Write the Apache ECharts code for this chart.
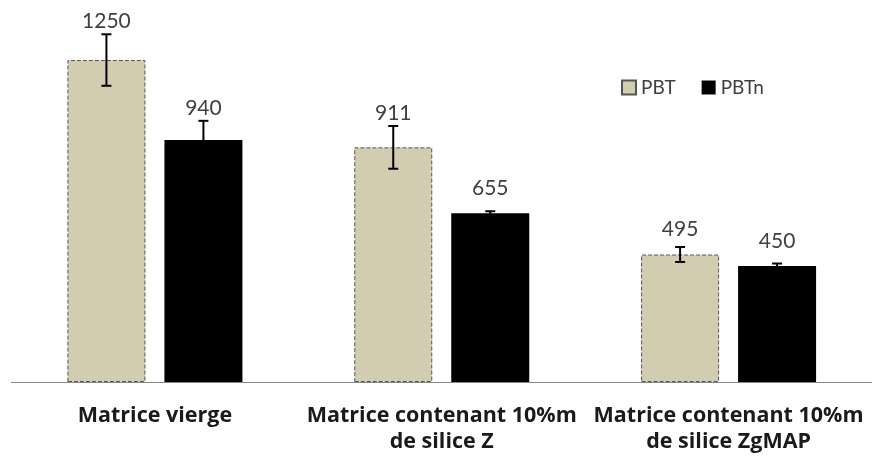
<!DOCTYPE html>
<html><head><meta charset="utf-8">
<script src="https://cdn.jsdelivr.net/npm/echarts/dist/echarts.min.js"></script>
<style>html,body{margin:0;padding:0;background:#fff}#c{width:872px;height:459px}</style>
</head><body><div id="c"></div>
<script>
const categories = ['Matrice vierge', 'Matrice contenant 10%m\nde silice Z', 'Matrice contenant 10%m\nde silice ZgMAP'];
const seriesNames = ['PBT', 'PBTn'];
const pbtValues = [1250, 911, 495];
const pbtnValues = [940, 655, 450];
const pbtErrors = [100, 83, 29];
const pbtnErrors = [74, 8, 10];

const BAR_W = 78, BAR_GAP = 19;
const FONT = 'Lato, "Open Sans", sans-serif';

function errSeries(vals, errs, idx) {
  return {
    type: 'custom', name: 'err' + idx, z: 10, silent: true,
    data: vals.map((v, i) => [i, v, errs[i]]),
    renderItem: function (params, api) {
      const c = api.value(0), v = api.value(1), e = api.value(2);
      const off = (idx === 0 ? -1 : 1) * (BAR_W + BAR_GAP) / 2;
      const top = api.coord([c, v + e]);
      const bot = api.coord([c, v - e]);
      const bar = api.coord([c, v]);
      const x = top[0] + off;
      const ly = Math.min(top[1] - 13, bar[1] - 25);
      const st = { stroke: '#000', lineWidth: 2 };
      return { type: 'group', children: [
        { type: 'line', shape: { x1: x, y1: top[1], x2: x, y2: bot[1] }, style: st },
        { type: 'line', shape: { x1: x - 5, y1: top[1], x2: x + 5, y2: top[1] }, style: st },
        { type: 'line', shape: { x1: x - 5, y1: bot[1], x2: x + 5, y2: bot[1] }, style: st },
        { type: 'text', style: { text: String(v), x: x, y: ly, align: 'center', verticalAlign: 'middle',
          font: '21px ' + FONT, fill: '#404040' } }
      ]};
    }
  };
}

const chart = echarts.init(document.getElementById('c'), null, { renderer: 'canvas' });
chart.setOption({
  animation: false,
  backgroundColor: '#fff',
  grid: { left: 11.5, width: 868, top: 21.4, bottom: 77, containLabel: false },
  legend: {
    data: seriesNames, left: 616, top: 73, icon: 'rect', itemWidth: 14, itemHeight: 14, itemGap: 26,
    textStyle: { fontSize: 19, color: '#404040', fontFamily: FONT }
  },
  xAxis: {
    type: 'category', data: categories,
    axisLine: { lineStyle: { color: '#868686', width: 1 } },
    axisTick: { show: false },
    axisLabel: { interval: 0, fontSize: 21.5, fontWeight: 'bold', color: '#1a1a1a', fontFamily: '"Open Sans", sans-serif', lineHeight: 26, margin: 21 }
  },
  yAxis: { type: 'value', min: 0, max: 1400, show: false, splitLine: { show: false } },
  series: [
    { type: 'bar', name: seriesNames[0], data: pbtValues, barWidth: BAR_W, barGap: (BAR_GAP / BAR_W * 100) + '%',
      itemStyle: { color: '#D2CDB0', borderColor: '#555', borderWidth: 1, borderType: 'dashed' } },
    { type: 'bar', name: seriesNames[1], data: pbtnValues, barWidth: BAR_W,
      itemStyle: { color: '#000' } },
    errSeries(pbtValues, pbtErrors, 0),
    errSeries(pbtnValues, pbtnErrors, 1)
  ]
});
</script></body></html>
